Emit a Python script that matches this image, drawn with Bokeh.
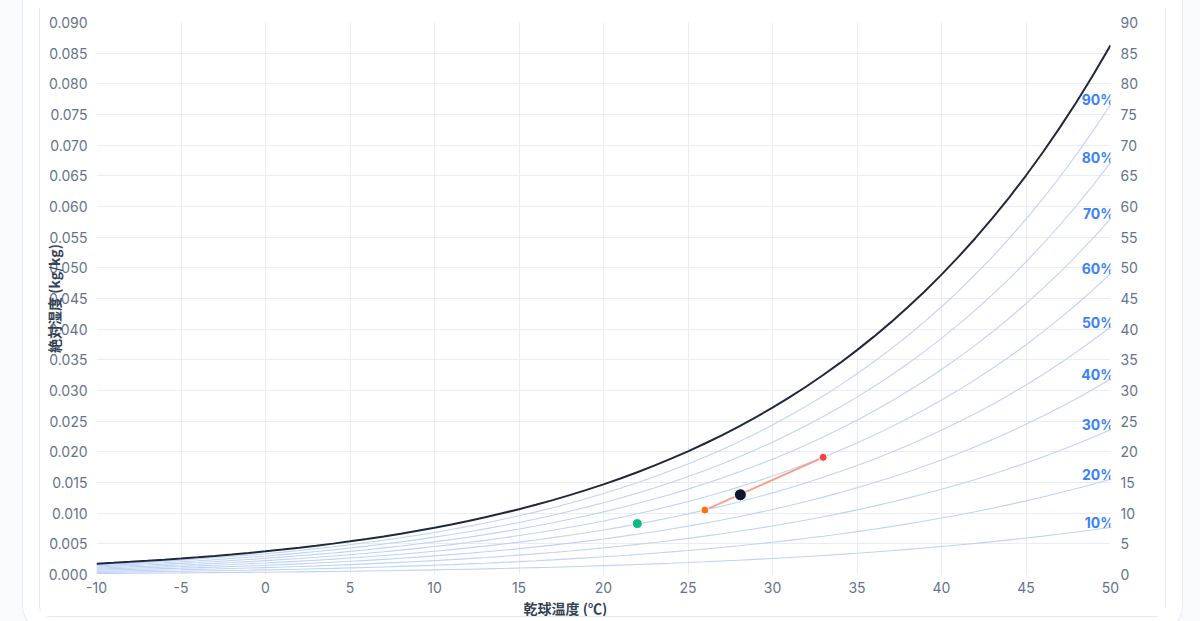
from bokeh.plotting import figure
from bokeh.models import (Range1d, LinearAxis, FixedTicker, PrintfTickFormatter,
                          LabelSet, ColumnDataSource, Title)
from bokeh.core.properties import value
from bokeh.embed import file_html
from bokeh.resources import INLINE

# --- data ---------------------------------------------------------------
# dry-bulb temperature (°C) and saturation vapour pressure (kPa) table
temps = list(range(-10, 51))
ps_kpa = [0.2865, 0.3101, 0.3354, 0.3624, 0.3914, 0.4222, 0.4551, 0.4903,
          0.5277, 0.5680, 0.6112, 0.6571, 0.7060, 0.7581, 0.8135, 0.8725,
          0.9350, 1.0020, 1.0729, 1.1481, 1.2280, 1.3128, 1.4026, 1.4979,
          1.5987, 1.7055, 1.8185, 1.9380, 2.0643, 2.1979, 2.3389, 2.4878,
          2.6448, 2.8105, 2.9852, 3.1693, 3.3633, 3.5674, 3.7823, 4.0084,
          4.2462, 4.4961, 4.7586, 5.0345, 5.3242, 5.6280, 5.9468, 6.2812,
          6.6315, 6.9988, 7.3838, 7.7866, 8.2081, 8.6495, 9.1110, 9.5935,
          10.098, 10.624, 11.173, 11.747, 12.344]
pressure_kpa = 101.325
rh_levels = [10, 20, 30, 40, 50, 60, 70, 80, 90]

# air states: outdoor, return, mixed, supply
state_t = [33.0, 26.0, 28.1, 22.0]
state_x = [0.0191, 0.0105, 0.0130, 0.0083]
state_colors = ["#ef4444", "#f97316", "#0f172a", "#10b981"]
state_sizes = [8, 8, 12, 10]

mix_t = [26.0, 33.0]
mix_x = [0.0105, 0.0191]

x_ticks = [-10, -5, 0, 5, 10, 15, 20, 25, 30, 35, 40, 45, 50]
y_ticks = [0.000, 0.005, 0.010, 0.015, 0.020, 0.025, 0.030, 0.035, 0.040,
           0.045, 0.050, 0.055, 0.060, 0.065, 0.070, 0.075, 0.080, 0.085, 0.090]
y2_ticks = [0, 5, 10, 15, 20, 25, 30, 35, 40, 45, 50, 55, 60, 65, 70, 75, 80, 85, 90]

x_label = "乾球温度 (℃)"
y_label = "絶対湿度 (kg/kg)"


def humidity(ps, phi):
    pv = phi * ps
    return 0.622 * pv / (pressure_kpa - pv)


sat_x = [humidity(ps, 1.0) for ps in ps_kpa]

# --- figure -------------------------------------------------------------
TICK_FONT = "Inter"
TICK_COLOR = "#64748b"
GRID = "#e9edf3"
LABEL_FONT = "Noto Sans CJK JP"

p = figure(width=1127, height=609,
           x_range=Range1d(-10, 50), y_range=Range1d(0, 0.09),
           output_backend="svg", toolbar_location=None,
           min_border_left=55, min_border_right=57,
           min_border_top=14, min_border_bottom=43,
           background_fill_color="white", border_fill_color="white")
p.outline_line_color = None
p.styles = {"margin-left": "39px",
            "margin-top": "8px",
            "border-left": "1px solid #e5e9f0",
            "border-right": "1px solid #e5e9f0",
            "border-bottom": "1px solid #e5e9f0",
            "border-radius": "0 0 12px 12px",
            "box-shadow": "0 0 0 16px #ffffff, 0 0 0 17px #e8ecf1, 0 0 0 80px #f8fafc"}

p.extra_y_ranges = {"g": Range1d(0, 90)}
right = LinearAxis(y_range_name="g")
p.add_layout(right, "right")

for ax in [p.xaxis[0], p.yaxis[0], right]:
    ax.axis_line_color = None
    ax.major_tick_line_color = None
    ax.minor_tick_line_color = None
    ax.major_tick_out = 0
    ax.major_tick_in = 0
    ax.major_label_text_font = TICK_FONT
    ax.major_label_text_font_size = "14px"
    ax.major_label_text_color = TICK_COLOR
    ax.axis_label_text_font = LABEL_FONT
    ax.axis_label_text_font_style = "bold"
    ax.axis_label_text_font_size = "14px"
    ax.axis_label_text_color = "#334155"

xa = p.xaxis[0]
xa.ticker = FixedTicker(ticks=x_ticks)
xa.formatter = PrintfTickFormatter(format="%d")
xa.major_label_standoff = 7

ya = p.yaxis[0]
ya.ticker = FixedTicker(ticks=y_ticks)
ya.formatter = PrintfTickFormatter(format="%.3f")
ya.major_label_standoff = 9
ya.axis_label = y_label
ya.axis_label_standoff = -18

right.ticker = FixedTicker(ticks=y2_ticks)
right.formatter = PrintfTickFormatter(format="%d")
right.major_label_standoff = 10

# x-axis title (left-offset as in the reference)
p.add_layout(Title(text=x_label, align="left", offset=427, standoff=0,
                   text_font=LABEL_FONT, text_font_style="bold",
                   text_font_size="14px", text_color="#334155"), "below")

p.xgrid.ticker = FixedTicker(ticks=x_ticks)
p.ygrid.ticker = FixedTicker(ticks=y_ticks)
p.xgrid.grid_line_color = GRID
p.ygrid.grid_line_color = GRID

# RH curves
for rh in rh_levels:
    xs = [humidity(ps, rh / 100) for ps in ps_kpa]
    p.line(temps, xs, line_color="#bfd3f6", line_width=1.1)

# saturation curve
p.line(temps, sat_x, line_color="#1e293b", line_width=2)

# RH labels
rh_src = ColumnDataSource(dict(
    x=[temps[-1]] * len(rh_levels),
    y=[humidity(ps_kpa[-1], rh / 100) for rh in rh_levels],
    t=[f"{rh}%" for rh in rh_levels]))
p.add_layout(LabelSet(x="x", y="y", text="t", source=rh_src,
                      text_align="right", text_baseline="middle",
                      x_offset=4, y_offset=5,
                      text_font=value(TICK_FONT), text_font_style="bold",
                      text_font_size="14px", text_color="#3b82f6"))

# mixing line and states
p.line(mix_t, mix_x, line_color="#f8a08c", line_width=2)
p.scatter(state_t, state_x, size=state_sizes, fill_color=state_colors,
          line_color="white", line_width=1)

open("out.html", "w").write(file_html(p, INLINE))
